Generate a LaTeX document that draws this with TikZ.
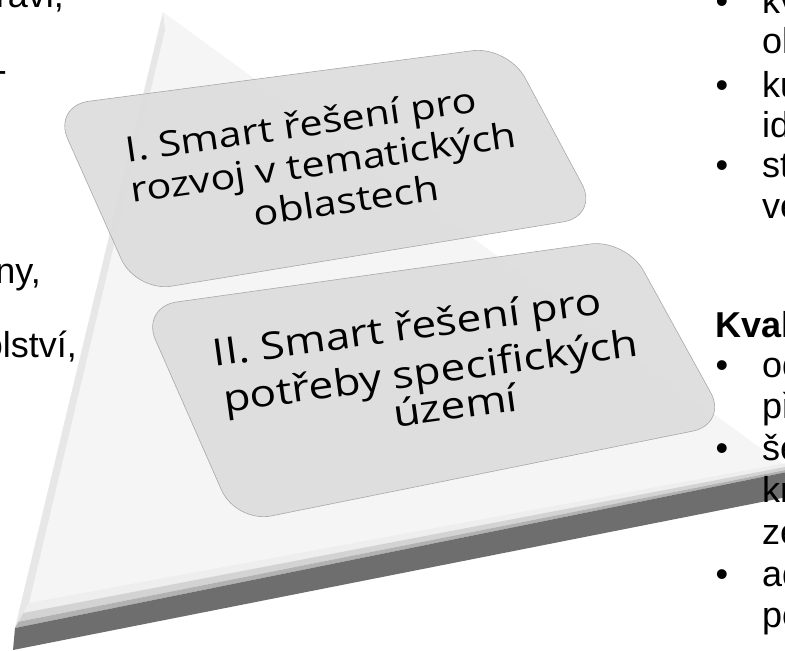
\documentclass[tikz,border=0pt]{standalone}
\usepackage{fontspec}
\setmainfont{Liberation Sans}
\newfontfamily\panelfont{Open Sans}
\usetikzlibrary{calc}

\definecolor{slabtop}{HTML}{F5F5F5}
\definecolor{slabedge}{HTML}{E7E7E7}
\definecolor{bevelhi}{HTML}{EEEEEE}
\definecolor{bevelmid}{HTML}{D3D3D3}
\definecolor{bevellow}{HTML}{B2B2B2}
\definecolor{slabside}{HTML}{6E6E6E}
\definecolor{panelfill}{HTML}{DCDCDC}
\definecolor{paneldraw}{HTML}{A8A8A8}

\begin{document}
\begin{tikzpicture}[
  panel/.style={draw=paneldraw, line width=0.6bp, fill=panelfill, fill opacity=0.9, rounded corners=36bp},
  paneltext/.style={inner sep=0pt, anchor=base, xscale=1.18, font=\panelfont\fontsize{#1}{#1}\selectfont},
  sidetext/.style={inner sep=0pt, font=\fontsize{36bp}{41bp}\selectfont},
  bullet/.style={inner sep=0pt, anchor=base, font=\fontsize{36bp}{41bp}\selectfont}
]
  \useasboundingbox (0bp,0bp) rectangle (785bp,-651bp);
  \clip (0bp,0bp) rectangle (785bp,-651bp);

  % the slab under the panels
  \coordinate (apex)   at (163bp,-12bp);
  \coordinate (apexin) at (165bp,-30bp);
  \coordinate (lft)    at (15bp,-628bp);
  \coordinate (lftin)  at (29bp,-603bp);
  \coordinate (rgt)    at (792bp,-471bp);
  \coordinate (rgtin)  at (792bp,-462bp);
  \coordinate (lftlow) at (13bp,-650bp);
  \coordinate (rgtlow) at (792bp,-496bp);

  \fill[slabtop] (apex) -- (lft) -- (rgt) -- cycle;
  \fill[slabedge] (apex) -- (lft) -- (lftin) -- (apexin) -- cycle;
  \fill[bevelhi] (lftin) -- (rgtin) -- ($(rgtin)!.4!(rgt)$) -- ($(lftin)!.4!(lft)$) -- cycle;
  \fill[bevelmid] ($(lftin)!.4!(lft)$) -- ($(rgtin)!.4!(rgt)$) -- ($(rgtin)!.75!(rgt)$) -- ($(lftin)!.75!(lft)$) -- cycle;
  \fill[bevellow] ($(lftin)!.75!(lft)$) -- ($(rgtin)!.75!(rgt)$) -- (rgt) -- (lft) -- cycle;
  \fill[slabside] (lft) -- (rgt) -- (rgtlow) -- (lftlow) -- cycle;

  % the two panels
  \draw[panel] (53bp,-106bp) -- (508bp,-46bp) -- (599bp,-216bp) -- (136bp,-292bp) -- cycle;
  \draw[panel] (141bp,-307bp) -- (626bp,-239bp) -- (728bp,-424bp) -- (236bp,-523bp) -- cycle;

  \node (tI1) at (303bp,-137bp) [rotate=8.25, paneltext=35bp] {I. Smart řešení pro};
  \node (tI2) at (325bp,-175bp) [rotate=8.25, paneltext=35bp] {rozvoj v tematických};
  \node (tI3) at (348bp,-213bp) [rotate=8.25, paneltext=35bp] {oblastech};

  \node (tII1) at (409bp,-340bp) [rotate=7.8, paneltext=37.5bp] {II. Smart řešení pro};
  \node (tII2) at (432bp,-384bp) [rotate=7.8, paneltext=37.5bp] {potřeby specifických};
  \node (tII3) at (457bp,-419bp) [rotate=7.8, paneltext=37.5bp] {území};

  % text left of the slab
  \node (l1) at (64bp,-7bp)   [sidetext, anchor=base east] {ravi,};
  \node (l2) at (7bp,-82bp)   [sidetext, anchor=base east] {-};
  \node (l3) at (41bp,-283bp) [sidetext, anchor=base east] {ny,};
  \node (l4) at (77bp,-357bp) [sidetext, anchor=base east] {olství,};

  % text right of the slab
  \node (b1) at (722bp,-13bp)  [bullet] {•};
  \node (r1) at (762bp,-13bp)  [sidetext, anchor=base west] {kv};
  \node (r2) at (762bp,-53bp)  [sidetext, anchor=base west] {ol};
  \node (b2) at (722bp,-97bp)  [bullet] {•};
  \node (r3) at (762bp,-97bp)  [sidetext, anchor=base west] {ku};
  \node (r4) at (762bp,-137bp) [sidetext, anchor=base west] {id};
  \node (b3) at (722bp,-177bp) [bullet] {•};
  \node (r5) at (762bp,-177bp) [sidetext, anchor=base west] {st};
  \node (r6) at (762bp,-218bp) [sidetext, anchor=base west] {ve};

  \node (h1) at (715bp,-337bp) [sidetext, anchor=base west, font=\bfseries\fontsize{36bp}{41bp}\selectfont] {Kval};
  \node (b4) at (722bp,-377bp) [bullet] {•};
  \node (r7) at (762bp,-377bp) [sidetext, anchor=base west] {od};
  \node (r8) at (762bp,-418bp) [sidetext, anchor=base west] {př};
  \node (b5) at (722bp,-460bp) [bullet] {•};
  \node (r9) at (762bp,-460bp) [sidetext, anchor=base west] {še};
  \node (r10) at (762bp,-502bp) [sidetext, anchor=base west] {kr};
  \node (r11) at (762bp,-544bp) [sidetext, anchor=base west] {ze};
  \node (b6) at (722bp,-586bp) [bullet] {•};
  \node (r12) at (762bp,-586bp) [sidetext, anchor=base west] {ad};
  \node (r13) at (762bp,-627bp) [sidetext, anchor=base west] {po};
\end{tikzpicture}
\end{document}
